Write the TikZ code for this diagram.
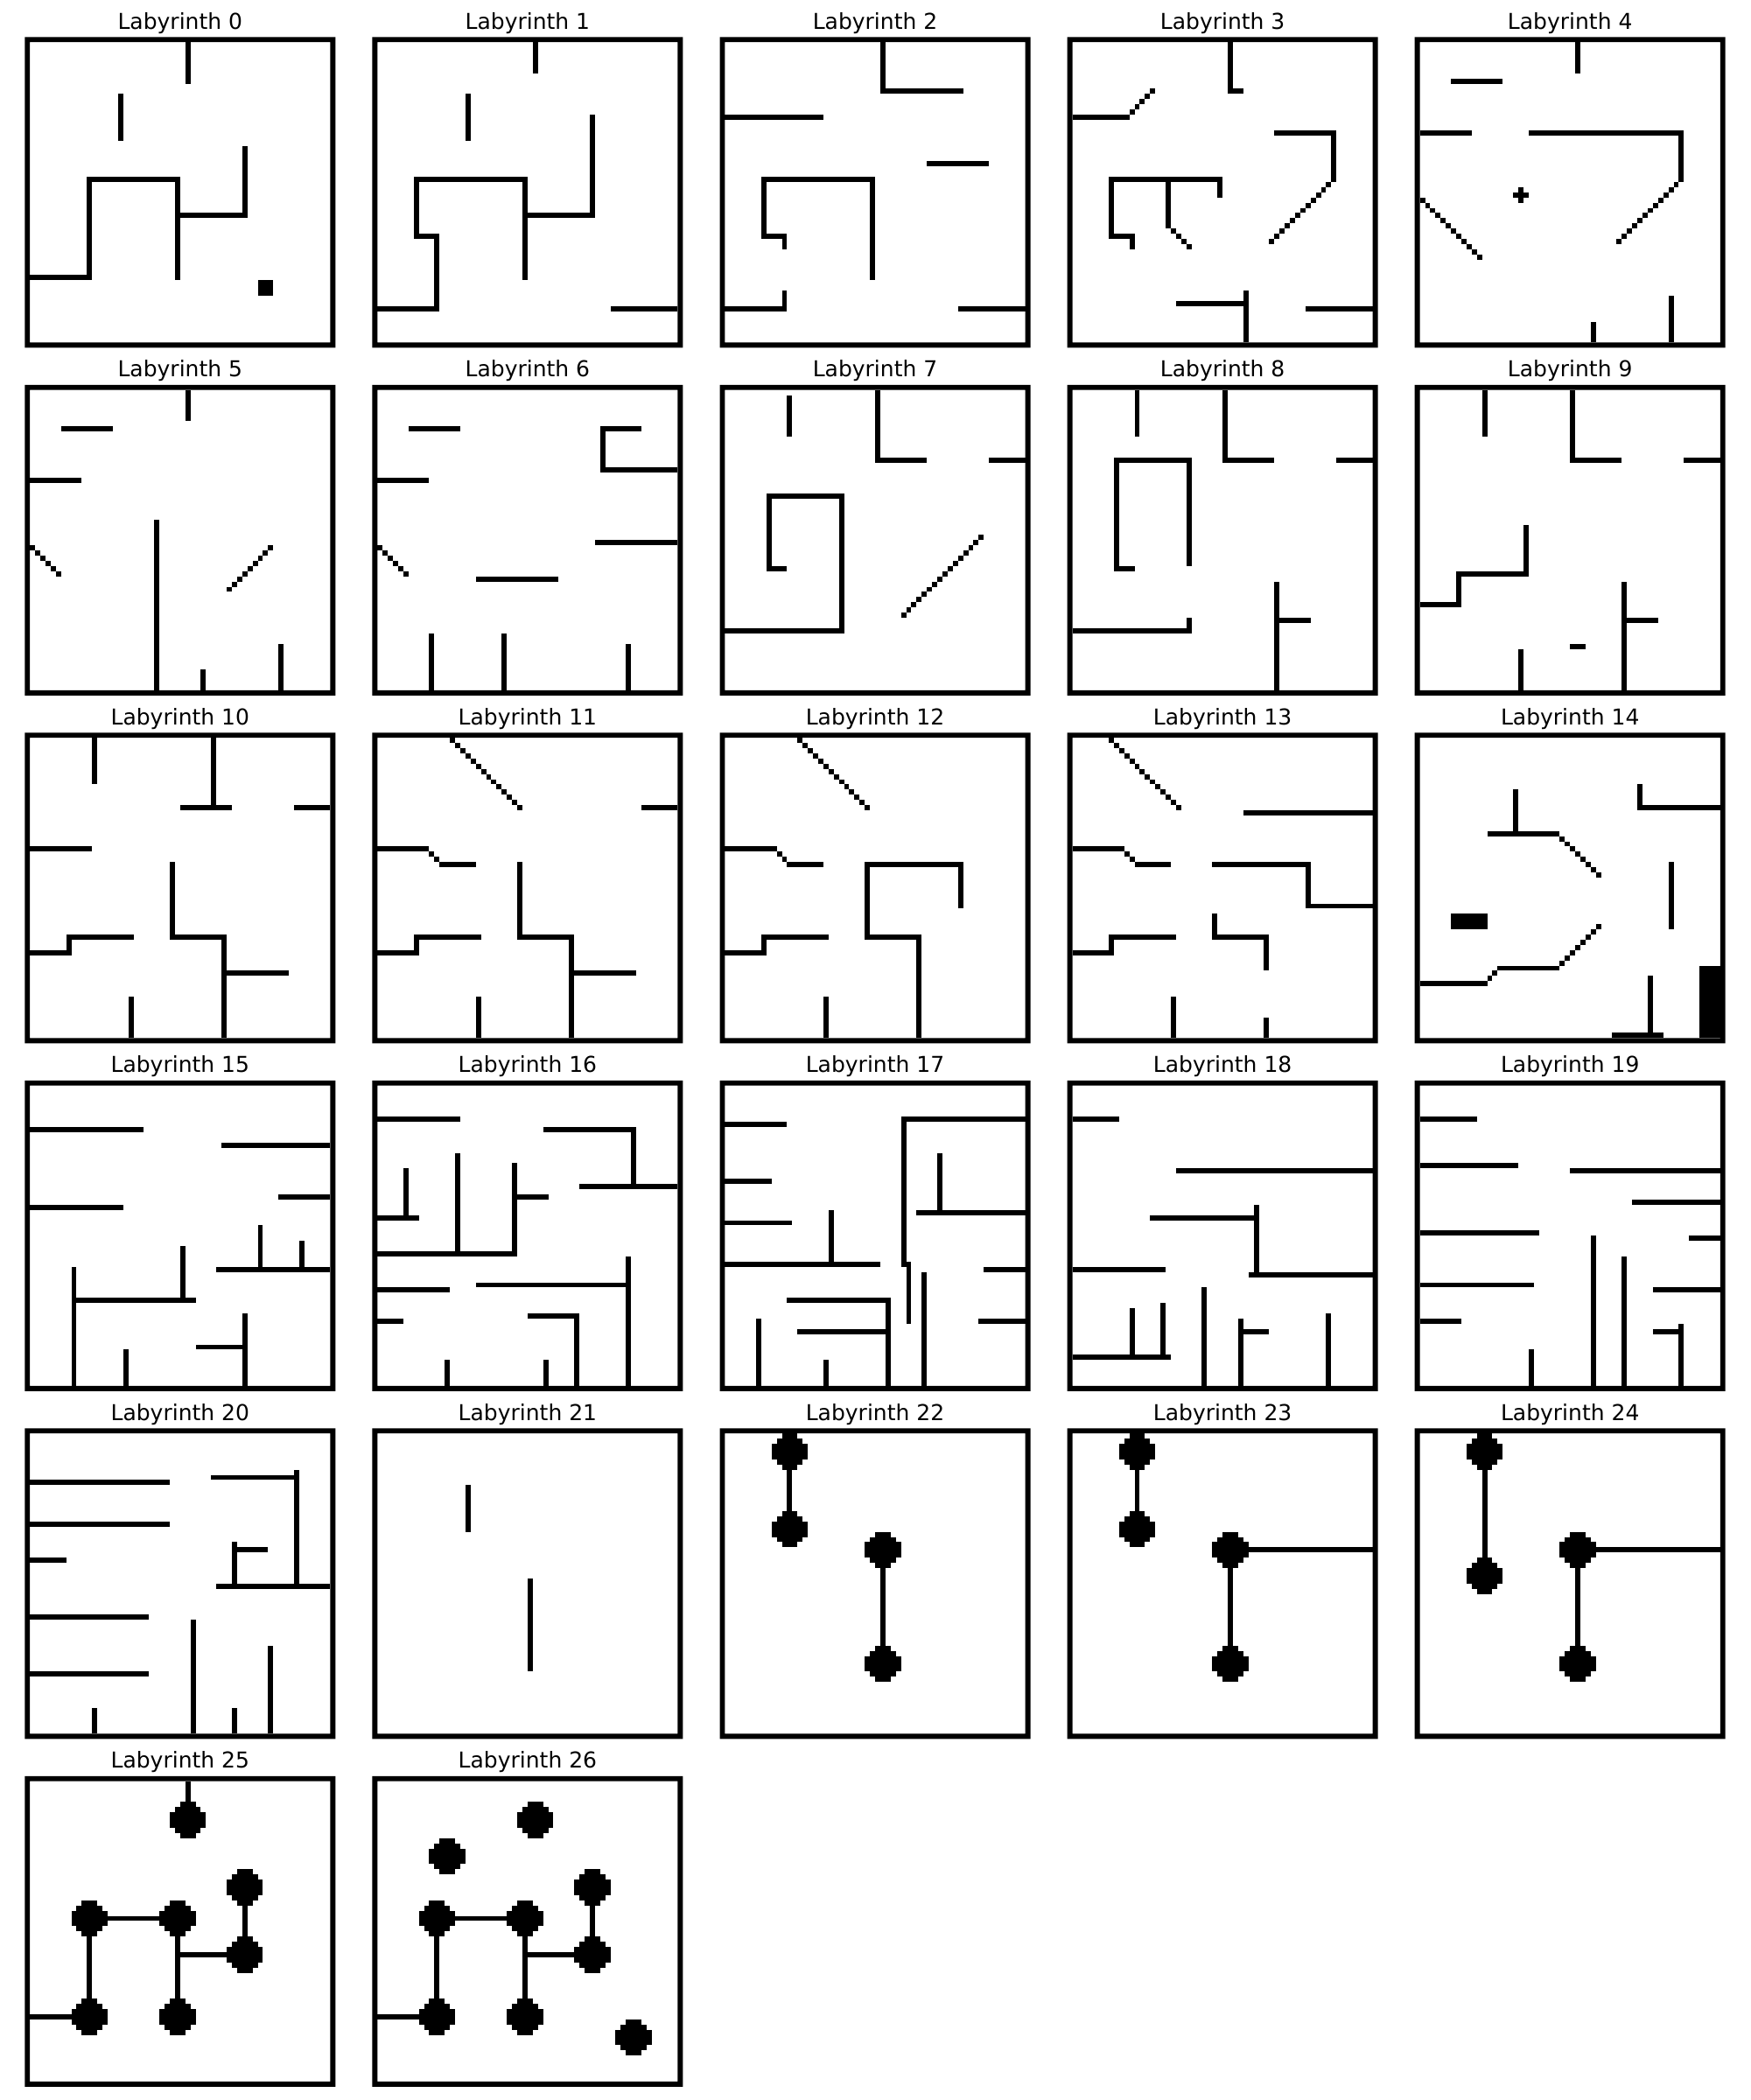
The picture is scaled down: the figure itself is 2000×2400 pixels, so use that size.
\documentclass[tikz,border=0pt]{standalone}
\usepackage{fontspec}
\setmainfont{DejaVu Sans}
\newcommand\hw[3]{\fill (#2,#1) rectangle (#3+1,#1+1);}
\newcommand\vw[3]{\fill (#1,#2) rectangle (#1+1,#3+1);}
\newcommand\cel[2]{\fill (#1,#2) rectangle ++(1,1);}
\newcommand\dg[5]{\foreach \k in {0,...,#5}{\fill ({#1+(#3)*\k},{#2+(#4)*\k}) rectangle ++(1,1);}}
\newcommand\dsk[2]{\fill (#1-1,#2-3) rectangle (#1+2,#2+4);\fill (#1-2,#2-2) rectangle (#1+3,#2+3);\fill (#1-3,#2-1) rectangle (#1+4,#2+2);}
\newcommand\labpanel[4]{%
 \begin{scope}[shift={({28.3+397.1*#1},{-(42.3+397.5*#2)})}, x=5.9167pt, y=-5.9167pt]
 \node[ttl] (t#3) at (30,-1.52) {Labyrinth #3};
 \fill[even odd rule] (0,0) rectangle (60,60) (1,1) rectangle (59,59);
 #4
 \end{scope}}
\tikzset{ttl/.style={anchor=base, inner sep=0pt, font=\fontsize{25pt}{30pt}\selectfont}}
\begin{document}
\begin{tikzpicture}[x=1pt,y=1pt]
\useasboundingbox[fill=white] (0,0) rectangle (2000,-2400);
% Lab 0
\labpanel{0}{0}{0}{\vw{31}{1}{8}\vw{18}{11}{19}\vw{42}{21}{34}\hw{34}{30}{42}\hw{27}{12}{29}\vw{12}{27}{46}\hw{46}{1}{12}\vw{29}{27}{46}\fill (45,47) rectangle (48,50);}
% Lab 1
\labpanel{1}{0}{1}{\vw{31}{1}{6}\vw{18}{11}{19}\vw{42}{15}{34}\hw{34}{29}{42}\hw{27}{8}{29}\vw{8}{27}{38}\hw{38}{8}{12}\vw{12}{38}{52}\hw{52}{1}{12}\vw{29}{27}{46}\hw{52}{46}{58}}
% Lab 2
\labpanel{2}{0}{2}{\vw{31}{1}{10}\hw{10}{31}{46}\hw{15}{1}{19}\hw{24}{40}{51}\hw{27}{8}{29}\vw{29}{27}{46}\vw{8}{27}{38}\hw{38}{8}{12}\vw{12}{38}{40}\vw{12}{49}{52}\hw{52}{1}{12}\hw{52}{46}{58}}
% Lab 3
\labpanel{3}{0}{3}{\vw{31}{1}{10}\hw{10}{31}{33}\hw{15}{1}{11}\dg{12}{14}{1}{-1}{4}\hw{18}{40}{51}\vw{51}{18}{27}\dg{50}{28}{-1}{1}{11}\hw{27}{8}{29}\vw{29}{27}{30}\vw{8}{27}{38}\hw{38}{8}{12}\vw{12}{38}{40}\vw{19}{27}{36}\dg{20}{37}{1}{1}{3}\vw{34}{49}{58}\hw{51}{21}{33}\hw{52}{46}{58}}
% Lab 4
\labpanel{4}{0}{4}{\vw{31}{1}{6}\hw{8}{7}{16}\hw{18}{1}{10}\hw{18}{22}{51}\vw{51}{18}{27}\dg{50}{28}{-1}{1}{11}\cel{20}{29}\hw{30}{19}{21}\cel{20}{31}\dg{1}{31}{1}{1}{11}\vw{34}{55}{58}\vw{49}{50}{58}}
% Lab 5
\labpanel{0}{1}{5}{\vw{31}{1}{6}\hw{8}{7}{16}\hw{18}{1}{10}\dg{1}{31}{1}{1}{5}\vw{25}{26}{58}\dg{47}{31}{-1}{1}{8}\vw{34}{55}{58}\vw{49}{50}{58}}
% Lab 6
\labpanel{1}{1}{6}{\hw{8}{7}{16}\hw{18}{1}{10}\dg{1}{31}{1}{1}{5}\hw{8}{44}{51}\vw{44}{8}{16}\hw{16}{44}{58}\hw{30}{43}{58}\hw{37}{20}{35}\vw{11}{48}{58}\vw{25}{48}{58}\vw{49}{50}{58}}
% Lab 7
\labpanel{2}{1}{7}{\vw{13}{2}{9}\vw{30}{1}{14}\hw{14}{30}{39}\hw{14}{52}{58}\hw{21}{9}{23}\vw{9}{21}{35}\hw{35}{9}{12}\vw{23}{21}{47}\hw{47}{1}{23}\dg{50}{29}{-1}{1}{15}}
% Lab 8
\labpanel{3}{1}{8}{\vw{13}{1}{9}\vw{30}{1}{14}\hw{14}{30}{39}\hw{14}{52}{58}\hw{14}{9}{23}\vw{9}{14}{35}\hw{35}{9}{12}\vw{23}{14}{34}\hw{47}{1}{23}\vw{23}{45}{47}\vw{40}{38}{58}\hw{45}{40}{46}}
% Lab 9
\labpanel{4}{1}{9}{\vw{13}{1}{9}\vw{30}{1}{14}\hw{14}{30}{39}\hw{14}{52}{58}\vw{21}{27}{36}\hw{36}{8}{21}\vw{8}{36}{42}\hw{42}{1}{8}\vw{40}{38}{58}\hw{45}{40}{46}\hw{50}{30}{32}\vw{20}{51}{58}}
% Lab 10
\labpanel{0}{2}{10}{\vw{13}{1}{9}\vw{36}{1}{14}\hw{14}{30}{39}\hw{14}{52}{58}\hw{22}{1}{12}\vw{28}{25}{39}\hw{39}{28}{38}\vw{38}{39}{58}\hw{46}{38}{50}\hw{39}{8}{20}\vw{8}{39}{42}\hw{42}{1}{8}\vw{20}{51}{58}}
% Lab 11
\labpanel{1}{2}{11}{\dg{15}{1}{1}{1}{13}\hw{14}{52}{58}\hw{22}{1}{10}\cel{11}{23}\cel{12}{24}\hw{25}{13}{19}\vw{28}{25}{39}\hw{39}{28}{38}\vw{38}{39}{58}\hw{46}{38}{50}\hw{39}{8}{20}\vw{8}{39}{42}\hw{42}{1}{8}\vw{20}{51}{58}}
% Lab 12
\labpanel{2}{2}{12}{\dg{15}{1}{1}{1}{13}\hw{22}{1}{10}\cel{11}{23}\cel{12}{24}\hw{25}{13}{19}\hw{25}{28}{46}\vw{46}{25}{33}\vw{28}{25}{39}\hw{39}{28}{38}\vw{38}{39}{58}\hw{39}{8}{20}\vw{8}{39}{42}\hw{42}{1}{8}\vw{20}{51}{58}}
% Lab 13
\labpanel{3}{2}{13}{\dg{8}{1}{1}{1}{13}\hw{15}{34}{58}\hw{22}{1}{10}\cel{11}{23}\cel{12}{24}\hw{25}{13}{19}\hw{25}{28}{46}\vw{46}{25}{33}\hw{33}{46}{58}\vw{28}{35}{39}\hw{39}{28}{38}\vw{38}{39}{45}\hw{39}{8}{20}\vw{8}{39}{42}\hw{42}{1}{8}\vw{20}{51}{58}\vw{38}{55}{58}}
% Lab 14
\labpanel{4}{2}{14}{\vw{19}{11}{19}\hw{19}{14}{27}\dg{28}{20}{1}{1}{7}\vw{43}{10}{14}\hw{14}{43}{58}\vw{49}{25}{37}\fill (7,35) rectangle (14,38);\hw{45}{16}{27}\dg{28}{44}{1}{-1}{7}\hw{48}{1}{13}\cel{14}{47}\cel{15}{46}\vw{45}{47}{58}\hw{58}{38}{47}\fill (55,45) rectangle (59,59);}
% Lab 15
\labpanel{0}{3}{15}{\hw{9}{1}{22}\hw{12}{38}{58}\hw{22}{49}{58}\hw{24}{1}{18}\vw{45}{28}{36}\vw{53}{31}{36}\hw{36}{37}{58}\vw{30}{32}{42}\hw{42}{9}{32}\vw{9}{36}{58}\vw{19}{52}{58}\vw{42}{45}{58}\hw{51}{33}{42}}
% Lab 16
\labpanel{1}{3}{16}{\hw{7}{1}{16}\hw{9}{33}{50}\vw{50}{9}{20}\hw{20}{40}{58}\vw{16}{14}{33}\vw{6}{17}{26}\hw{26}{1}{8}\vw{27}{16}{33}\hw{22}{28}{33}\hw{33}{1}{27}\hw{40}{1}{14}\hw{39}{20}{49}\vw{49}{34}{58}\hw{46}{1}{5}\hw{45}{30}{39}\vw{39}{45}{58}\vw{14}{54}{58}\vw{33}{54}{58}}
% Lab 17
\labpanel{2}{3}{17}{\hw{8}{1}{12}\hw{19}{1}{9}\hw{27}{1}{13}\vw{21}{25}{35}\hw{35}{1}{30}\hw{7}{35}{58}\vw{35}{7}{35}\vw{36}{35}{46}\vw{42}{14}{25}\hw{25}{38}{58}\vw{39}{37}{58}\hw{36}{51}{58}\hw{46}{50}{58}\hw{42}{13}{32}\vw{32}{42}{58}\hw{48}{15}{32}\vw{7}{46}{58}\vw{20}{54}{58}}
% Lab 18
\labpanel{3}{3}{18}{\hw{7}{1}{9}\hw{17}{21}{58}\hw{26}{16}{36}\vw{36}{24}{37}\hw{37}{35}{58}\hw{36}{1}{18}\vw{26}{40}{58}\vw{12}{44}{53}\vw{18}{43}{53}\hw{53}{1}{19}\vw{33}{46}{58}\hw{48}{33}{38}\vw{50}{45}{58}}
% Lab 19
\labpanel{4}{3}{19}{\hw{7}{1}{11}\hw{16}{1}{19}\hw{17}{30}{58}\hw{23}{42}{58}\hw{29}{1}{23}\hw{30}{53}{58}\vw{34}{30}{58}\vw{40}{34}{58}\hw{39}{1}{22}\hw{40}{46}{58}\hw{46}{1}{8}\hw{48}{46}{51}\vw{51}{47}{58}\vw{22}{52}{58}}
% Lab 20
\labpanel{0}{4}{20}{\hw{10}{1}{27}\hw{18}{1}{27}\hw{25}{1}{7}\hw{36}{1}{23}\hw{47}{1}{23}\hw{9}{36}{52}\vw{52}{8}{30}\hw{30}{37}{58}\vw{40}{22}{30}\hw{23}{40}{46}\vw{32}{37}{58}\vw{47}{42}{58}\vw{13}{54}{58}\vw{40}{54}{58}}
% Lab 21
\labpanel{1}{4}{21}{\vw{18}{11}{19}\vw{30}{29}{46}}
% Lab 22
\labpanel{2}{4}{22}{\dsk{13}{4}\dsk{13}{19}\vw{13}{4}{19}\dsk{31}{23}\dsk{31}{45}\vw{31}{23}{45}}
% Lab 23
\labpanel{3}{4}{23}{\dsk{13}{4}\dsk{13}{19}\vw{13}{4}{19}\dsk{31}{23}\dsk{31}{45}\vw{31}{23}{45}\hw{23}{31}{58}}
% Lab 24
\labpanel{4}{4}{24}{\dsk{13}{4}\dsk{13}{28}\vw{13}{4}{28}\dsk{31}{23}\dsk{31}{45}\vw{31}{23}{45}\hw{23}{31}{58}}
% Lab 25
\labpanel{0}{5}{25}{\vw{31}{1}{8}\dsk{31}{8}\dsk{42}{21}\dsk{12}{27}\dsk{29}{27}\dsk{42}{34}\dsk{12}{46}\dsk{29}{46}\hw{27}{12}{29}\vw{12}{27}{46}\vw{29}{27}{46}\hw{34}{29}{42}\vw{42}{21}{34}\hw{46}{1}{12}}
% Lab 26
\labpanel{1}{5}{26}{\dsk{31}{8}\dsk{14}{15}\dsk{42}{21}\dsk{12}{27}\dsk{29}{27}\dsk{42}{34}\dsk{12}{46}\dsk{29}{46}\dsk{50}{50}\hw{27}{12}{29}\vw{12}{27}{46}\vw{29}{27}{46}\hw{34}{29}{42}\vw{42}{21}{34}\hw{46}{1}{12}}
\end{tikzpicture}
\end{document}
